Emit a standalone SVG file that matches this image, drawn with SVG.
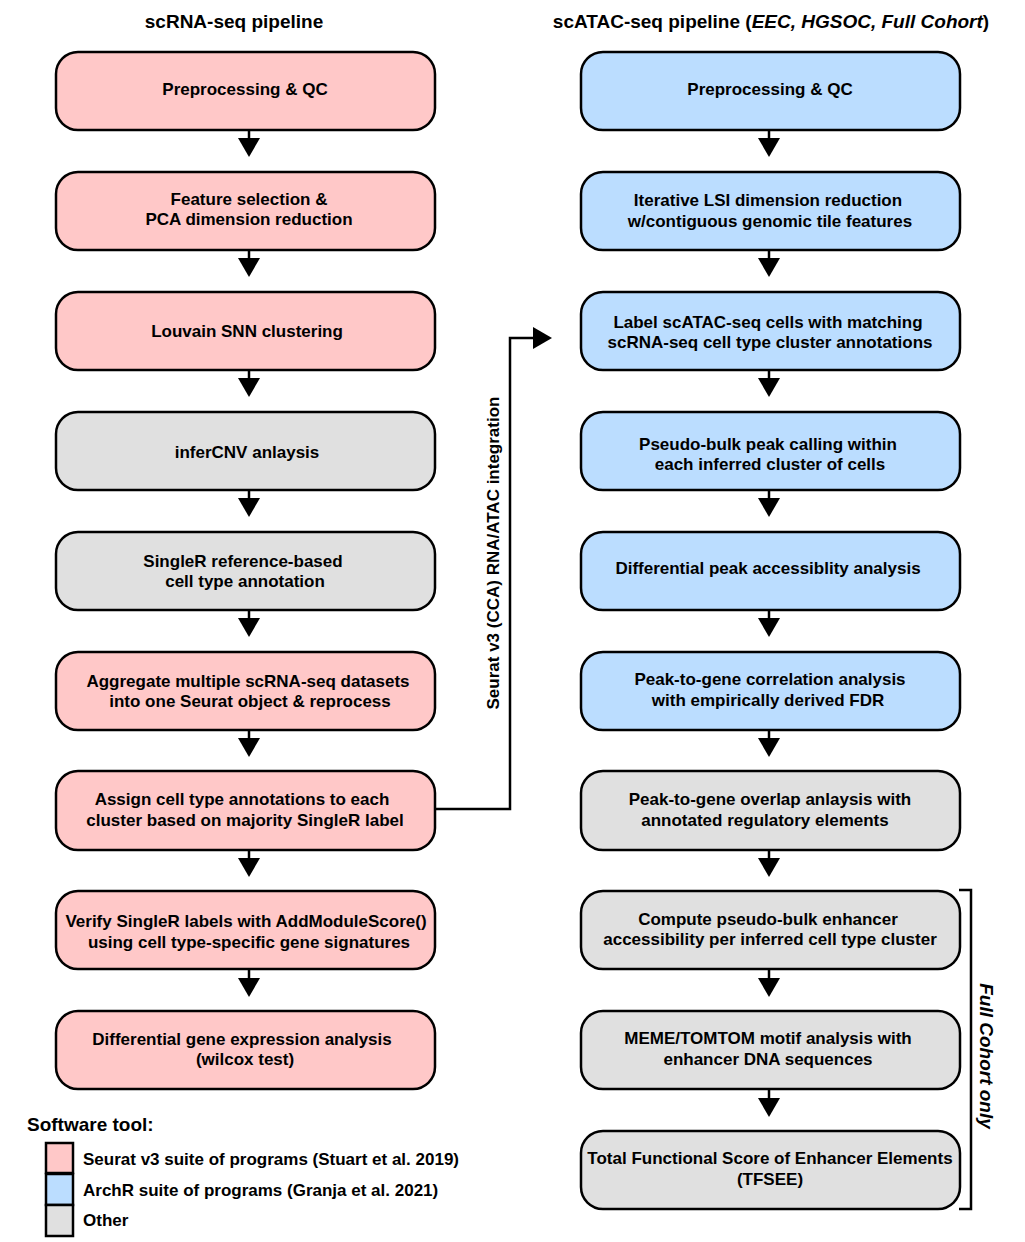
<svg xmlns="http://www.w3.org/2000/svg" width="1025" height="1242" viewBox="0 0 1025 1242">
<style>
  text { font-family: "Liberation Sans", Arial, sans-serif; font-weight: bold; fill: #000; }
  .hdr { font-size: 19px; text-anchor: middle; }
  .lbl { font-size: 17px; text-anchor: middle; }
  .box { stroke: #000; stroke-width: 2.5; }
  .seurat { fill: #FFC8C8; }
  .archr { fill: #BBDDFF; }
  .other { fill: #E0E0E0; }
  .wire { fill: none; stroke: #000; stroke-width: 2.5; }
  .leg { font-size: 17px; }
</style>
<defs>
  <path id="tri" d="M-11,0 L11,0 L0,19 z" fill="#000"/>
</defs>

<text class="hdr" x="234" y="28">scRNA-seq pipeline</text>
<text class="hdr" x="771" y="28">scATAC-seq pipeline (<tspan font-style="italic">EEC, HGSOC, Full Cohort</tspan>)</text>

<!-- scRNA-seq column -->
<g id="rna1"><rect class="box seurat" x="56" y="52" width="379" height="78" rx="22"/><text class="lbl" x="245" y="95">Preprocessing &amp; QC</text></g>
<g id="rna2"><rect class="box seurat" x="56" y="172" width="379" height="78" rx="22"/><text class="lbl" x="249" y="205">Feature selection &amp;</text><text class="lbl" x="249" y="225">PCA dimension reduction</text></g>
<g id="rna3"><rect class="box seurat" x="56" y="292" width="379" height="78" rx="22"/><text class="lbl" x="247" y="337">Louvain SNN clustering</text></g>
<g id="rna4"><rect class="box other" x="56" y="412" width="379" height="78" rx="22"/><text class="lbl" x="247" y="458">inferCNV anlaysis</text></g>
<g id="rna5"><rect class="box other" x="56" y="532" width="379" height="78" rx="22"/><text class="lbl" x="243" y="567">SingleR reference-based</text><text class="lbl" x="245" y="587">cell type annotation</text></g>
<g id="rna6"><rect class="box seurat" x="56" y="652" width="379" height="78" rx="22"/><text class="lbl" x="248" y="687">Aggregate multiple scRNA-seq datasets</text><text class="lbl" x="250" y="707">into one Seurat object &amp; reprocess</text></g>
<g id="rna7"><rect class="box seurat" x="56" y="771" width="379" height="79" rx="22"/><text class="lbl" x="242" y="805">Assign cell type annotations to each</text><text class="lbl" x="245" y="826">cluster based on majority SingleR label</text></g>
<g id="rna8"><rect class="box seurat" x="56" y="891" width="379" height="78" rx="22"/><text class="lbl" x="246" y="927">Verify SingleR labels with AddModuleScore()</text><text class="lbl" x="249" y="948">using cell type-specific gene signatures</text></g>
<g id="rna9"><rect class="box seurat" x="56" y="1011" width="379" height="78" rx="22"/><text class="lbl" x="242" y="1045">Differential gene expression analysis</text><text class="lbl" x="245" y="1065">(wilcox test)</text></g>

<!-- scATAC-seq column -->
<g id="atac1"><rect class="box archr" x="581" y="52" width="379" height="78" rx="22"/><text class="lbl" x="770" y="95">Preprocessing &amp; QC</text></g>
<g id="atac2"><rect class="box archr" x="581" y="172" width="379" height="78" rx="22"/><text class="lbl" x="768" y="206">Iterative LSI dimension reduction</text><text class="lbl" x="770" y="227">w/contiguous genomic tile features</text></g>
<g id="atac3"><rect class="box archr" x="581" y="292" width="379" height="78" rx="22"/><text class="lbl" x="768" y="328">Label scATAC-seq cells with matching</text><text class="lbl" x="770" y="348">scRNA-seq cell type cluster annotations</text></g>
<g id="atac4"><rect class="box archr" x="581" y="412" width="379" height="78" rx="22"/><text class="lbl" x="768" y="450">Pseudo-bulk peak calling within</text><text class="lbl" x="770" y="470">each inferred cluster of cells</text></g>
<g id="atac5"><rect class="box archr" x="581" y="532" width="379" height="78" rx="22"/><text class="lbl" x="768" y="574">Differential peak accessiblity analysis</text></g>
<g id="atac6"><rect class="box archr" x="581" y="652" width="379" height="78" rx="22"/><text class="lbl" x="770" y="685">Peak-to-gene correlation analysis</text><text class="lbl" x="768" y="706">with empirically derived FDR</text></g>
<g id="atac7"><rect class="box other" x="581" y="771" width="379" height="79" rx="22"/><text class="lbl" x="770" y="805">Peak-to-gene overlap anlaysis with</text><text class="lbl" x="765" y="826">annotated regulatory elements</text></g>
<g id="atac8"><rect class="box other" x="581" y="891" width="379" height="78" rx="22"/><text class="lbl" x="768" y="925">Compute pseudo-bulk enhancer</text><text class="lbl" x="770" y="945">accessibility per inferred cell type cluster</text></g>
<g id="atac9"><rect class="box other" x="581" y="1011" width="379" height="78" rx="22"/><text class="lbl" x="768" y="1044">MEME/TOMTOM motif analysis with</text><text class="lbl" x="768" y="1065">enhancer DNA sequences</text></g>
<g id="atac10"><rect class="box other" x="581" y="1131" width="379" height="78" rx="22"/><text class="lbl" x="770" y="1164">Total Functional Score of Enhancer Elements</text><text class="lbl" x="770" y="1185">(TFSEE)</text></g>

<!-- connectors -->
<g id="connectors">
  <g id="rna-arrows">
    <line class="wire" x1="249" y1="130" x2="249" y2="140"/><use href="#tri" x="249" y="138"/>
    <line class="wire" x1="249" y1="250" x2="249" y2="260"/><use href="#tri" x="249" y="258"/>
    <line class="wire" x1="249" y1="370" x2="249" y2="380"/><use href="#tri" x="249" y="378"/>
    <line class="wire" x1="249" y1="490" x2="249" y2="500"/><use href="#tri" x="249" y="498"/>
    <line class="wire" x1="249" y1="610" x2="249" y2="620"/><use href="#tri" x="249" y="618"/>
    <line class="wire" x1="249" y1="730" x2="249" y2="740"/><use href="#tri" x="249" y="738"/>
    <line class="wire" x1="249" y1="850" x2="249" y2="860"/><use href="#tri" x="249" y="858"/>
    <line class="wire" x1="249" y1="969" x2="249" y2="980"/><use href="#tri" x="249" y="978"/>
  </g>
  <g id="atac-arrows">
    <line class="wire" x1="769" y1="130" x2="769" y2="140"/><use href="#tri" x="769" y="138"/>
    <line class="wire" x1="769" y1="250" x2="769" y2="260"/><use href="#tri" x="769" y="258"/>
    <line class="wire" x1="769" y1="370" x2="769" y2="380"/><use href="#tri" x="769" y="378"/>
    <line class="wire" x1="769" y1="490" x2="769" y2="500"/><use href="#tri" x="769" y="498"/>
    <line class="wire" x1="769" y1="610" x2="769" y2="620"/><use href="#tri" x="769" y="618"/>
    <line class="wire" x1="769" y1="730" x2="769" y2="740"/><use href="#tri" x="769" y="738"/>
    <line class="wire" x1="769" y1="850" x2="769" y2="860"/><use href="#tri" x="769" y="858"/>
    <line class="wire" x1="769" y1="969" x2="769" y2="980"/><use href="#tri" x="769" y="978"/>
    <line class="wire" x1="769" y1="1089" x2="769" y2="1100"/><use href="#tri" x="769" y="1098"/>
  </g>
  <g id="integration">
    <polyline class="wire" points="435,809 510,809 510,338 535,338"/>
    <path d="M533,327 L552,338 L533,349 z" fill="#000"/>
    <text class="lbl" font-weight="normal" transform="translate(499,553) rotate(-90)">Seurat v3 (CCA) RNA/ATAC integration</text>
  </g>
</g>

<!-- cohort bracket -->
<g id="full-cohort">
  <polyline class="wire" points="959,890 971,890 971,1209 959,1209"/>
  <text font-style="italic" text-anchor="middle" style="font-size:19px" transform="translate(980,1056) rotate(90)">Full Cohort only</text>
</g>

<!-- legend -->
<g id="legend">
  <text x="27" y="1131" style="font-size:19px">Software tool:</text>
  <rect class="box seurat" x="46" y="1143" width="27" height="30"/>
  <rect class="box archr" x="46" y="1174" width="27" height="31"/>
  <rect class="box other" x="46" y="1205" width="27" height="31"/>
  <text class="leg" x="83" y="1165">Seurat v3 suite of programs (Stuart et al. 2019)</text>
  <text class="leg" x="83" y="1196">ArchR suite of programs (Granja et al. 2021)</text>
  <text class="leg" x="83" y="1226">Other</text>
</g>
</svg>
